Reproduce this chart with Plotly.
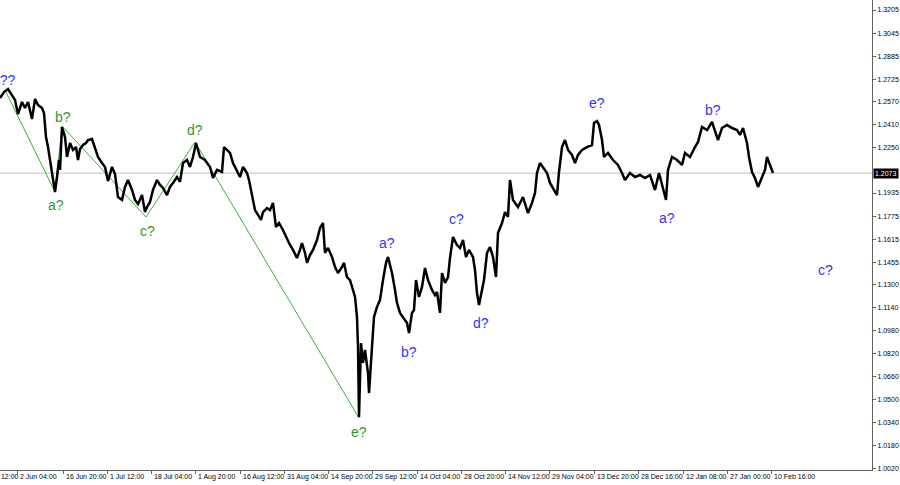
import plotly.graph_objects as go

# ---- price path (bar index, price) ----
bars = [0, 4, 8, 12, 15, 18, 22, 25, 28, 32, 35, 38, 42, 44, 46, 48, 50, 52, 54, 55,
        57, 59, 60, 62, 65, 67, 70, 73, 76, 78, 80, 83, 86, 88, 92, 95, 98, 102, 105, 108,
        112, 115, 118, 122, 125, 128, 132, 135, 138, 142, 145, 147, 150, 153, 157, 160, 163, 167, 170, 173,
        177, 180, 183, 187, 190, 193, 196, 200, 205, 210, 213, 217, 222, 224, 227, 230, 233, 237, 240, 243,
        247, 249, 252, 255, 258, 261, 263, 267, 270, 273, 276, 279, 283, 286, 289, 293, 297, 300, 302, 305,
        307, 310, 313, 317, 320, 323, 325, 328, 332, 335, 338, 342, 344, 347, 350, 353, 355, 357, 358, 359,
        361, 363, 365, 368, 369, 372, 374, 377, 380, 383, 386, 388, 392, 395, 397, 400, 403, 407, 409, 412,
        414, 416, 419, 422, 425, 428, 432, 435, 437, 440, 442, 445, 448, 450, 453, 457, 460, 463, 466, 469,
        473, 475, 477, 479, 482, 484, 487, 490, 493, 496, 498, 502, 505, 508, 510, 513, 518, 523, 528, 532,
        535, 537, 540, 543, 547, 550, 553, 557, 559, 562, 565, 568, 572, 575, 578, 582, 587, 592, 594, 597,
        599, 602, 604, 608, 613, 618, 622, 625, 630, 635, 640, 645, 650, 655, 659, 663, 666, 668, 672, 677,
        682, 685, 690, 695, 698, 702, 707, 712, 715, 718, 722, 727, 732, 737, 740, 743, 747, 749, 752, 755,
        758, 762, 765, 767, 770, 773]
prices = [1.2594, 1.2636, 1.2657, 1.2608, 1.2581, 1.2483, 1.2567, 1.2525, 1.2567, 1.2449,
          1.2587, 1.2546, 1.2525, 1.2490, 1.2324, 1.2254, 1.2164, 1.2095, 1.1984, 1.1942,
          1.2046, 1.2164, 1.2095, 1.2393, 1.2324, 1.2185, 1.2282, 1.2234, 1.2254, 1.2164,
          1.2240, 1.2268, 1.2282, 1.2303, 1.2310, 1.2254, 1.2185, 1.2143, 1.2116, 1.2018,
          1.2116, 1.2067, 1.1907, 1.1887, 1.1977, 1.2025, 1.1956, 1.1887, 1.1859, 1.1921,
          1.1803, 1.1838, 1.1873, 1.1956, 1.2025, 1.1991, 1.1970, 1.1921, 1.1977, 1.2005,
          1.2046, 1.2012, 1.2143, 1.2164, 1.2116, 1.2185, 1.2282, 1.2185, 1.2164, 1.2116,
          1.2039, 1.2095, 1.2081, 1.2254, 1.2234, 1.2213, 1.2143, 1.2081, 1.2046, 1.2116,
          1.2074, 1.2025, 1.1907, 1.1817, 1.1783, 1.1748, 1.1803, 1.1831, 1.1817, 1.1866,
          1.1699, 1.1727, 1.1678, 1.1630, 1.1588, 1.1540, 1.1484, 1.1540, 1.1588, 1.1519,
          1.1450, 1.1505, 1.1540, 1.1609, 1.1692, 1.1727, 1.1519, 1.1554, 1.1491, 1.1422,
          1.1380, 1.1422, 1.1450, 1.1352, 1.1331, 1.1262, 1.1214, 1.1075, 1.0867, 1.0381,
          1.0894, 1.0756, 1.0846, 1.0686, 1.0547, 1.0867, 1.1075, 1.1144, 1.1193, 1.1331,
          1.1450, 1.1491, 1.1380, 1.1262, 1.1172, 1.1103, 1.1075, 1.1033, 1.0964, 1.1103,
          1.1123, 1.1331, 1.1214, 1.1283, 1.1415, 1.1331, 1.1262, 1.1227, 1.1248, 1.1103,
          1.1380, 1.1311, 1.1352, 1.1484, 1.1630, 1.1574, 1.1554, 1.1609, 1.1491, 1.1540,
          1.1491, 1.1401, 1.1241, 1.1158, 1.1262, 1.1331, 1.1519, 1.1560, 1.1491, 1.1352,
          1.1658, 1.1727, 1.1803, 1.1769, 1.2025, 1.1887, 1.1838, 1.1907, 1.1796, 1.1866,
          1.1935, 1.2074, 1.2143, 1.2116, 1.2074, 1.2005, 1.1970, 1.1921, 1.2081, 1.2254,
          1.2303, 1.2234, 1.2199, 1.2143, 1.2199, 1.2234, 1.2254, 1.2268, 1.2421, 1.2435,
          1.2407, 1.2303, 1.2185, 1.2213, 1.2164, 1.2130, 1.2074, 1.2025, 1.2074, 1.2046,
          1.2060, 1.2039, 1.2060, 1.1956, 1.2074, 1.1977, 1.1887, 1.2095, 1.2185, 1.2164,
          1.2130, 1.2213, 1.2185, 1.2254, 1.2289, 1.2393, 1.2372, 1.2428, 1.2372, 1.2303,
          1.2386, 1.2407, 1.2386, 1.2372, 1.2338, 1.2386, 1.2282, 1.2185, 1.2081, 1.2039,
          1.1977, 1.2046, 1.2095, 1.2185, 1.2130, 1.2074]

# ---- green wave line vertices ----
wave_bars = [6, 55, 62, 146, 195, 359]
wave_prices = [1.2636, 1.1942, 1.2400, 1.1768, 1.2289, 1.0374]

# ---- wave labels ----
green_labels = ["a?", "b?", "c?", "d?", "e?"]
green_label_bars = [56, 63, 147, 195, 359]
green_label_prices = [1.1852, 1.2463, 1.1672, 1.2372, 1.0277]

blue_labels = ["a?", "b?", "c?", "d?", "e?", "a?", "b?", "c?"]
blue_label_bars = [387, 409, 456, 481, 597, 667, 713, 825]
blue_label_prices = [1.1588, 1.0832, 1.1755, 1.1033, 1.2560, 1.1762, 1.2511, 1.1401]
corner_label = "???"
corner_label_bar = 18
corner_label_price = 1.2719

current_price = 1.2073

# ---- axis ticks ----
y_ticks = [1.3205, 1.3045, 1.2885, 1.2725, 1.2570, 1.2410, 1.2250, 1.1935, 1.1775, 1.1615,
           1.1455, 1.1300, 1.1140, 1.0980, 1.0820, 1.0660, 1.0500, 1.0340, 1.0180, 1.0020]
y_tick_labels = ["%.4f" % v for v in y_ticks]
x_tick_bars = [17, 63, 107, 151, 195, 240, 284, 328, 372, 417, 461, 505, 549, 594, 638, 683, 727, 771]
x_tick_labels = ["2 Jun 04:00", "16 Jun 20:00", "1 Jul 12:00", "18 Jul 04:00", "1 Aug 20:00",
                 "16 Aug 12:00", "31 Aug 04:00", "14 Sep 20:00", "29 Sep 12:00", "14 Oct 04:00",
                 "28 Oct 20:00", "14 Nov 12:00", "29 Nov 04:00", "13 Dec 20:00", "28 Dec 16:00",
                 "12 Jan 08:00", "27 Jan 00:00", "10 Feb 16:00"]
cut_label = "18 May 12:00"
cut_label_bar = -27

X_MAX = 872
Y_MIN, Y_MAX = 1.0013, 1.32744

GREEN_LINE = "#3fae3f"
GREEN_TEXT = "#2f9a2f"
BLUE_TEXT = "#3333ff"
FONT = "Liberation Sans"

fig = go.Figure()

fig.add_trace(go.Scatter(x=[0, X_MAX], y=[current_price, current_price], mode="lines",
                         line=dict(color="#c0c0c0", width=1), hoverinfo="skip"))
fig.add_trace(go.Scatter(x=wave_bars, y=wave_prices, mode="lines",
                         line=dict(color=GREEN_LINE, width=1), hoverinfo="skip"))
fig.add_trace(go.Scatter(x=bars, y=prices, mode="lines",
                         line=dict(color="black", width=2.5)))

annotations = []
for t, b, p in zip(green_labels, green_label_bars, green_label_prices):
    annotations.append(dict(x=b, y=p, xref="x", yref="y", text=t, showarrow=False,
                            font=dict(family=FONT, size=14, color=GREEN_TEXT)))
for t, b, p in zip(blue_labels, blue_label_bars, blue_label_prices):
    annotations.append(dict(x=b, y=p, xref="x", yref="y", text=t, showarrow=False,
                            font=dict(family=FONT, size=14, color=BLUE_TEXT)))
annotations.append(dict(x=corner_label_bar, y=corner_label_price, xref="x", yref="y",
                        text=corner_label, showarrow=False, xanchor="right",
                        font=dict(family=FONT, size=14, color=BLUE_TEXT)))
for t, b in zip(x_tick_labels, x_tick_bars):
    annotations.append(dict(x=b, y=0, xref="x", yref="paper", text=t, showarrow=False,
                            xanchor="left", yanchor="top", xshift=1, yshift=-1,
                            font=dict(family=FONT, size=7, color="black")))
annotations.append(dict(x=cut_label_bar / X_MAX, y=0, xref="paper", yref="paper", text=cut_label,
                        showarrow=False, xanchor="left", yanchor="top", xshift=1, yshift=-1,
                        font=dict(family=FONT, size=7, color="black")))
annotations.append(dict(x=1, y=current_price, xref="paper", yref="y", text="1.2073",
                        showarrow=False, xanchor="left", xshift=1, bgcolor="black",
                        borderpad=1, font=dict(family=FONT, size=7, color="white")))

fig.update_layout(
    width=900, height=485,
    margin=dict(l=0, r=28, t=0, b=15),
    paper_bgcolor="white", plot_bgcolor="white",
    showlegend=False,
    annotations=annotations,
    xaxis=dict(range=[0, X_MAX], showgrid=False, zeroline=False, showline=True,
               linecolor="#606060", linewidth=1, ticks="outside", ticklen=3,
               tickcolor="#606060", tickvals=x_tick_bars, showticklabels=False),
    yaxis=dict(range=[Y_MIN, Y_MAX], side="right", showgrid=False, zeroline=False,
               showline=True, linecolor="#606060", linewidth=1, ticks="outside",
               ticklen=3, tickcolor="#606060", tickvals=y_ticks, ticktext=y_tick_labels,
               tickfont=dict(family=FONT, size=7, color="black")),
)

fig.write_html("out.html", config={"displayModeBar": False},
               post_script="document.body.style.margin='0';document.body.style.overflow='hidden';")
